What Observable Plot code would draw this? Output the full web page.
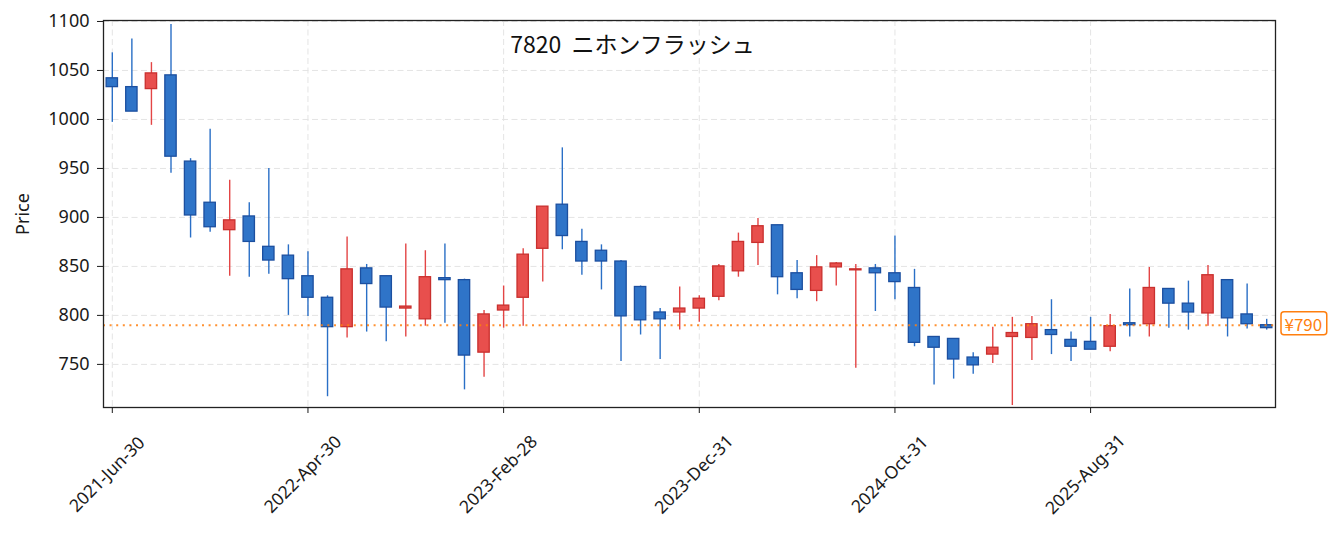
<!DOCTYPE html>
<html><head><meta charset="utf-8">
<script src="https://cdn.jsdelivr.net/npm/d3@7"></script>
<script src="https://cdn.jsdelivr.net/npm/@observablehq/plot@0.6"></script>
<style>body{margin:0;background:#fff;} svg{display:block}</style>
</head><body><div id="chart"></div>
<script>
const title = "7820  ニホンフラッシュ";
const yLabel = "Price";
const open  = [1042,1033,1031,1045,957,915,887,901,870,861,840,818,788,848,840,807,796,838,836,762,805,818,868,913,875,866,855,829,803,803,807,819,845,874,892,843,825,849,846,848,843,828,778,776,757,760,778,777,785,775,773,768,792,791,827,812,802,836,801,790];
const high  = [1068,1082,1058,1097,960,990,938,915,950,872,865,820,880,852,840,873,866,873,837,805,830,868,911,971,888,872,856,830,807,829,820,852,884,899,892,856,861,854,852,852,881,847,778,776,762,788,798,799,816,783,798,801,827,849,827,835,851,836,832,796];
const low   = [997,1008,994,945,879,885,840,839,842,800,799,717,777,783,773,778,789,792,724,737,787,789,834,867,841,826,753,780,755,785,793,815,839,851,821,817,814,830,746,804,816,768,729,735,740,751,708,754,760,753,765,763,778,778,787,785,789,778,786,785];
const close = [1033,1008,1047,962,902,890,897,875,856,837,818,788,847,832,808,809,839,836,759,801,810,862,911,881,855,855,799,795,796,807,817,850,875,891,839,826,849,853,847,843,834,772,767,755,749,767,782,791,780,768,765,789,790,828,812,803,841,797,791,787];
const tickIndex  = [0,10,20,30,40,50];
const tickLabels = ["2021-Jun-30","2022-Apr-30","2023-Feb-28","2023-Dec-31","2024-Oct-31","2025-Aug-31"];
const yTicks = [750,800,850,900,950,1000,1050,1100];
const lastPrice = 790;
const lastLabel = "¥790";

const upFill = "#e84f4d", upEdge = "#c9302e", upWick = "#e34545";
const dnFill = "#2f74c8", dnEdge = "#1c4f9f", dnWick = "#2a6fc6";
const orange = "#ff7f0e";
const latin = "'Noto Sans', 'Noto Sans CJK JP', sans-serif";
const cjk = "'Noto Sans CJK JP', 'Noto Sans', sans-serif";

const data = open.map((o, i) => ({i, open: o, high: high[i], low: low[i], close: close[i], up: close[i] >= o}));

const grid = {stroke: "#e4e4e4", strokeOpacity: 1, strokeWidth: 1, strokeDasharray: "6,3.5"};

const chart = Plot.plot({
  width: 1339, height: 535,
  marginLeft: 103, marginRight: 64, marginTop: 20, marginBottom: 128,
  style: {fontFamily: latin, fontSize: "17px", color: "#1a1a1a", background: "#fff"},
  x: {type: "linear", domain: [-0.45, 59.45]},
  y: {domain: [706, 1101]},
  marks: [
    Plot.gridY(yTicks, grid),
    Plot.gridX(tickIndex, grid),
    Plot.ruleX(data, {x: "i", y1: "low", y2: "high", stroke: d => d.up ? upWick : dnWick, strokeWidth: 1.4}),
    Plot.rect(data, {x1: d => d.i - 0.29, x2: d => d.i + 0.29, y1: "open", y2: "close",
      fill: d => d.up ? upFill : dnFill, stroke: d => d.up ? upEdge : dnEdge, strokeWidth: 1.3}),
    Plot.ruleY([lastPrice], {stroke: orange, strokeOpacity: 0.85, strokeWidth: 2, strokeDasharray: "2,4.6"}),
    Plot.frame({stroke: "#222", strokeWidth: 1.3}),
    Plot.axisY({ticks: yTicks, tickFormat: d => String(d), tickSize: 6, tickPadding: 8, fontSize: 18,
      label: yLabel, labelAnchor: "center", labelArrow: "none", labelOffset: 87}),
    Plot.axisX({ticks: tickIndex, tickSize: 6, tickFormat: () => "", label: null}),
    Plot.text(tickIndex, {x: d => d, text: (d, k) => tickLabels[k], frameAnchor: "bottom", dx: -5, dy: 67, rotate: -45,
      textAnchor: "middle", lineAnchor: "middle", fontSize: 17.5, fill: "#1a1a1a"}),
    Plot.text([title], {frameAnchor: "top", dx: -57, dy: 25, lineAnchor: "middle", fontSize: 23, fill: "#111", fontFamily: cjk}),
    Plot.text([lastPrice], {y: d => d, text: () => lastLabel, frameAnchor: "right", dx: 9, textAnchor: "start",
      fill: orange, fontSize: 17, className: "last-label", fontFamily: cjk})
  ]
});
document.getElementById("chart").appendChild(chart);

// rounded box around the last-price label
const lbl = chart.querySelector("g.last-label text");
if (lbl) {
  const b = lbl.getBBox();
  const ns = "http://www.w3.org/2000/svg";
  const r = document.createElementNS(ns, "rect");
  r.setAttribute("x", b.x - 3.5); r.setAttribute("y", b.y + 1);
  r.setAttribute("width", b.width + 8); r.setAttribute("height", b.height - 2);
  r.setAttribute("rx", 3); r.setAttribute("fill", "#fff");
  r.setAttribute("stroke", orange); r.setAttribute("stroke-width", 1.5);
  const t = lbl.getAttribute("transform");
  if (t) r.setAttribute("transform", t);
  lbl.parentNode.insertBefore(r, lbl);
}
</script></body></html>
